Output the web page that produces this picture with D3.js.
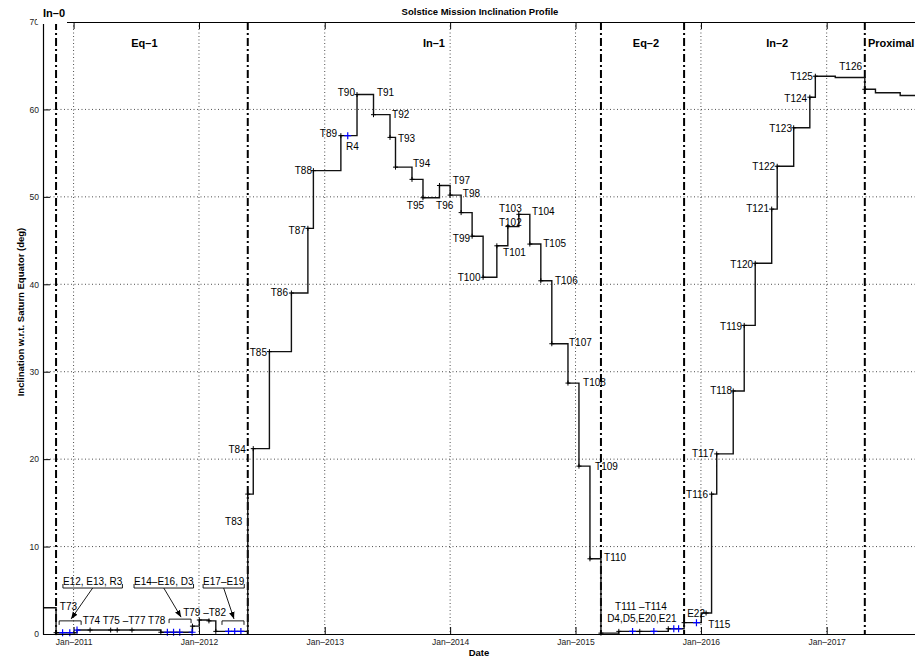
<!DOCTYPE html>
<html>
<head>
<meta charset="utf-8">
<script src="https://cdn.jsdelivr.net/npm/d3@7"></script>
<style>
  body { margin: 0; background: #fff; }
  svg { display: block; font-family: "Liberation Sans", Arial, Helvetica, sans-serif; }
</style>
</head>
<body>
<div id="chart"></div>
<script>
// Titan flybys of the Solstice mission
const titanNames = ["T73","T74","T75","T76","T77","T78","T79","T80","T81","T82",
  "T83","T84","T85","T86","T87","T88","T89","T90","T91","T92","T93","T94","T95","T96",
  "T97","T98","T99","T100","T101","T102","T103","T104","T105","T106","T107","T108","T109","T110",
  "T111","T112","T113","T114","T115","T116","T117","T118","T119","T120","T121","T122","T123","T124","T125","T126"];
const titanDates = ["2010-11-11","2011-02-18","2011-04-19","2011-05-08","2011-06-20","2011-09-12","2011-12-13","2012-01-02","2012-01-30","2012-02-19",
  "2012-05-22","2012-06-07","2012-07-24","2012-09-26","2012-11-13","2012-11-29","2013-02-17","2013-04-05","2013-05-23","2013-07-10","2013-07-26","2013-09-12","2013-10-14","2013-12-01",
  "2014-01-01","2014-02-02","2014-03-06","2014-04-07","2014-05-17","2014-06-18","2014-07-20","2014-08-21","2014-09-22","2014-10-24","2014-12-10","2015-01-11","2015-02-12","2015-03-16",
  "2015-05-07","2015-07-07","2015-09-28","2015-11-13","2016-01-16","2016-02-01","2016-02-16","2016-04-04","2016-05-06","2016-06-07","2016-07-25","2016-08-10","2016-09-27","2016-11-13","2016-11-29","2017-04-22"];

// icy satellite flybys (blue)
const otherNames = ["E12","E13","R3","E14","E15","E16","D3","E17","E18","E19","R4","D4","D5","E20","E21","E22"];
const otherDates = ["2010-11-30","2010-12-21","2011-01-11","2011-10-01","2011-10-19","2011-11-06","2011-12-12","2012-03-27","2012-04-14","2012-05-02",
  "2013-03-09","2015-06-16","2015-08-17","2015-10-14","2015-10-28","2015-12-19"];

// inclination profile (value holds from this date until the next one)
const stepDates = ["2010-10-04","2010-11-11","2011-01-11","2011-09-12","2011-12-13","2012-01-02","2012-01-30","2012-02-19",
  "2012-05-22","2012-06-07","2012-07-24","2012-09-26","2012-11-13","2012-11-29","2013-02-17","2013-04-05","2013-05-23","2013-07-10","2013-07-26","2013-09-12","2013-10-14","2013-12-01",
  "2014-01-01","2014-02-02","2014-03-06","2014-04-07","2014-05-17","2014-06-18","2014-07-20","2014-08-21","2014-09-22","2014-10-24","2014-12-10","2015-01-11","2015-02-12","2015-03-16",
  "2015-05-07","2015-09-28","2015-11-13","2016-01-02","2016-02-01","2016-02-16","2016-04-04","2016-05-06","2016-06-07","2016-07-25","2016-08-10","2016-09-27","2016-11-13","2016-11-29",
  "2017-01-26","2017-04-22","2017-05-23","2017-08-03"];
const stepIncl = [3.0,0.15,0.45,0.2,0.9,1.6,1.5,0.3,
  16.0,21.2,32.3,39.0,46.4,53.0,57.0,61.7,59.4,56.8,53.4,52.0,49.9,51.3,
  50.2,48.2,45.5,40.8,44.4,46.6,48.0,44.6,40.4,33.2,28.7,19.2,8.6,0.1,
  0.3,0.6,1.3,2.4,16.0,20.6,27.8,35.3,42.4,48.6,53.5,57.9,61.4,63.8,
  63.65,62.3,61.9,61.6];
const endDate = "2017-09-18";

// mission phases
const phaseNames = ["In–0","Eq–1","In–1","Eq–2","In–2","Proximal"];
const phaseLabelDates = ["2010-10-04","2011-07-26","2013-11-15","2015-07-25","2016-08-10","2017-05-01"];
const phaseLabelIncl = [71.0,67.6,67.6,67.6,67.6,67.6];
const phaseBounds = ["2010-11-11","2012-05-22","2015-03-16","2015-11-13","2017-04-22"];

const yTicks = [0,10,20,30,40,50,60,70];
const xTickDates = ["2011-01-01","2012-01-01","2013-01-01","2014-01-01","2015-01-01","2016-01-01","2017-01-01"];

// flyby labels: text, date, inclination, anchor
const labelText = ["T73","T74 T75 –T77 T78","T79 –T82","T83","T84","T85","T86","T87","T88","T89","R4","T90","T91","T92","T93","T94","T95","T96",
  "T97","T98","T99","T100","T101","T102","T103","T104","T105","T106","T107","T108","T109","T110",
  "T111 –T114","D4,D5,E20,E21","E22","T115","T116","T117","T118","T119","T120","T121","T122","T123","T124","T125","T126"];
const labelDates = ["2010-11-22","2011-01-28","2011-11-16","2012-05-06","2012-05-16","2012-07-17","2012-09-16","2012-11-07","2012-11-25","2013-02-06","2013-03-04","2013-03-30","2013-06-02","2013-07-16","2013-08-02","2013-09-15","2013-08-28","2013-11-21",
  "2014-01-09","2014-02-07","2014-01-09","2014-01-23","2014-06-04","2014-05-23","2014-05-23","2014-08-27","2014-09-29","2014-11-02","2014-12-13","2015-01-23","2015-02-27","2015-03-25",
  "2015-04-26","2015-04-03","2015-11-22","2016-01-22","2016-01-22","2016-02-08","2016-04-01","2016-04-30","2016-06-01","2016-07-17","2016-08-04","2016-09-22","2016-11-05","2016-11-22","2017-04-14"];
const labelIncl = [3.1,1.6,2.5,12.9,21.05,32.25,39.1,46.2,53.07,57.2,55.8,61.9,61.9,59.4,56.7,53.8,49.0,49.0,
  51.9,50.4,45.2,40.8,43.6,47.1,48.7,48.3,44.7,40.4,33.3,28.8,19.2,8.7,
  3.1,1.72,2.4,1.03,16.0,20.7,27.8,35.2,42.3,48.7,53.5,57.8,61.2,63.8,64.9];
const labelAnchor = ["start","start","start","end","end","end","end","end","end","end","start","end","start","start","start","start","start","start",
  "start","start","start","start","start","start","start","start","start","start","start","start","start","start",
  "start","start","start","start","end","end","end","end","end","end","end","end","end","end","end"];

// grouped flyby call-outs
const groupText = ["E12, E13, R3","E14–E16, D3","E17–E19"];
const groupTextDates = ["2010-12-01","2011-06-26","2012-01-13"];
const groupTextIncl = [6.06,6.06,6.06];
const groupSpanStart = ["2010-11-20","2011-10-06","2012-03-08"];
const groupSpanEnd = ["2011-01-23","2011-12-09","2012-05-11"];
const groupSpanIncl = [1.5,1.7,1.5];

const W = 915, H = 657;
const margin = { top: 22, left: 43, bottom: 23 };
const parse = d3.utcParse("%Y-%m-%d");

const svg = d3.select("#chart").append("svg")
  .attr("width", W).attr("height", H);

const x = d3.scaleUtc()
  .domain([parse(stepDates[0]), parse(endDate)])
  .range([margin.left, 916]);
const y = d3.scaleLinear()
  .domain([0, 70])
  .range([H - margin.bottom, margin.top]);

const defs = svg.append("defs");
defs.append("marker").attr("id", "arrow")
  .attr("viewBox", "0 0 10 10").attr("refX", 10).attr("refY", 5)
  .attr("markerWidth", 7).attr("markerHeight", 7)
  .attr("markerUnits", "userSpaceOnUse").attr("orient", "auto")
  .append("path").attr("d", "M0,1L10,5L0,9Z").attr("fill", "#000");
defs.append("clipPath").attr("id", "plotclip")
  .append("rect").attr("x", margin.left).attr("y", margin.top)
  .attr("width", 916 - margin.left).attr("height", y(0) - margin.top);

// grid
const grid = svg.append("g").attr("stroke", "#222").attr("stroke-width", 0.8).attr("stroke-dasharray", "1,2.5");
grid.selectAll(".gx").data(xTickDates).join("line")
  .attr("x1", d => x(parse(d))).attr("x2", d => x(parse(d)))
  .attr("y1", y(70)).attr("y2", y(0));
grid.selectAll(".gy").data(yTicks.filter(v => v > 0 && v < 70)).join("line")
  .attr("x1", margin.left).attr("x2", 916)
  .attr("y1", d => y(d)).attr("y2", d => y(d));

// phase boundaries
svg.append("g").selectAll("line").data(phaseBounds).join("line")
  .attr("x1", d => x(parse(d))).attr("x2", d => x(parse(d)))
  .attr("y1", y(70)).attr("y2", y(0))
  .attr("stroke", "#000").attr("stroke-width", 2)
  .attr("stroke-dasharray", "8,3,2,3");

// profile
const steps = stepDates.map((d, i) => [parse(d), stepIncl[i]]);
steps.push([parse(endDate), stepIncl[stepIncl.length - 1]]);
const line = d3.line().x(d => x(d[0])).y(d => y(d[1])).curve(d3.curveStepAfter);
svg.append("path").datum(steps)
  .attr("clip-path", "url(#plotclip)")
  .attr("d", line).attr("fill", "none")
  .attr("stroke", "#111").attr("stroke-width", 1.4);

const stepParsed = stepDates.map(parse);
function inclAt(date) {
  const i = d3.bisectRight(stepParsed, date) - 1;
  return stepIncl[Math.max(0, i)];
}

function plus(g, data, half, color, width) {
  g.selectAll("path").data(data).join("path")
    .attr("d", d => {
      const px = x(parse(d)), py = y(inclAt(parse(d)));
      return `M${px - half},${py}H${px + half}M${px},${py - half}V${py + half}`;
    })
    .attr("stroke", color).attr("stroke-width", width).attr("fill", "none");
}
plus(svg.append("g"), otherDates, 3.5, "#0000ff", 1.2);
plus(svg.append("g"), titanDates, 2.5, "#000", 1);

// flyby labels
svg.append("g").attr("font-size", 10).attr("fill", "#000")
  .selectAll("text").data(labelText).join("text")
  .attr("x", (d, i) => x(parse(labelDates[i])))
  .attr("y", (d, i) => y(labelIncl[i]))
  .attr("dy", "0.35em")
  .attr("text-anchor", (d, i) => labelAnchor[i])
  .text(d => d);

// grouped call-outs with brackets and arrows
const callouts = svg.append("g").attr("stroke", "#000").attr("fill", "none").attr("stroke-width", 0.9);
groupText.forEach((t, i) => {
  const tx = x(parse(groupTextDates[i])), ty = y(groupTextIncl[i]);
  const txt = svg.append("text").attr("x", tx).attr("y", ty).attr("dy", "0.35em")
    .attr("font-size", 10).text(t);
  const w = txt.node().getComputedTextLength();
  const uy = ty + 7;
  callouts.append("path").attr("d", `M${tx},${uy - 4}V${uy}H${tx + w}V${uy - 4}`);
  const bx0 = x(parse(groupSpanStart[i])), bx1 = x(parse(groupSpanEnd[i])), by = y(groupSpanIncl[i]);
  callouts.append("path").attr("d", `M${bx0},${by + 4}V${by}H${bx1}V${by + 4}`);
  callouts.append("line")
    .attr("x1", tx + w / 2).attr("y1", uy)
    .attr("x2", (bx0 + bx1) / 2 + 1).attr("y2", by - 2)
    .attr("marker-end", "url(#arrow)");
});

// axes
const fmt = d3.utcFormat("%b–%Y");
const xAxis = svg.append("g").attr("transform", `translate(0,${y(0)})`)
  .call(d3.axisBottom(x).tickValues(xTickDates.map(parse)).tickFormat(fmt)
    .tickSizeInner(-7).tickSizeOuter(0).tickPadding(5));
const yAxis = svg.append("g").attr("transform", `translate(${margin.left},0)`)
  .call(d3.axisLeft(y).tickValues(yTicks).tickSizeInner(-7).tickSizeOuter(0).tickPadding(4));
const topAxis = svg.append("g").attr("transform", `translate(0,${y(70)})`)
  .call(d3.axisTop(x).tickValues(xTickDates.map(parse)).tickFormat("")
    .tickSizeInner(-7).tickSizeOuter(0));
[xAxis, yAxis, topAxis].forEach(a => {
  a.selectAll(".domain").attr("stroke", "#000").attr("stroke-width", 1.2);
  a.selectAll(".tick line").attr("stroke", "#000");
  a.selectAll("text").attr("font-size", 8.5).attr("fill", "#222")
    .attr("font-family", "\"Liberation Sans\", Arial, sans-serif");
});

// phase labels
const phaseG = svg.append("g").attr("font-size", 11).attr("font-weight", "bold");
phaseNames.forEach((p, i) => {
  const px = x(parse(phaseLabelDates[i])), py = y(phaseLabelIncl[i]);
  const anchor = (i === 0 || i === phaseNames.length - 1) ? "start" : "middle";
  if (i === 0) {
    phaseG.append("rect").attr("x", px - 6).attr("y", 0)
      .attr("width", 30).attr("height", y(70) + 2).attr("fill", "#fff");
  }
  phaseG.append("text").attr("x", px).attr("y", py).attr("dy", "0.35em")
    .attr("text-anchor", anchor).text(p);
});

// titles
svg.append("text").attr("x", 480).attr("y", 15)
  .attr("text-anchor", "middle").attr("font-size", 9.5).attr("font-weight", "bold")
  .text("Solstice Mission Inclination Profile");
svg.append("text").attr("x", 479).attr("y", 656)
  .attr("text-anchor", "middle").attr("font-size", 9.5).attr("font-weight", "bold")
  .text("Date");
svg.append("text")
  .attr("transform", `translate(24,${(y(0) + y(70)) / 2 - 16}) rotate(-90)`)
  .attr("text-anchor", "middle").attr("font-size", 9.5).attr("font-weight", "bold")
  .text("Inclination w.r.t. Saturn Equator (deg)");
</script>
</body>
</html>
